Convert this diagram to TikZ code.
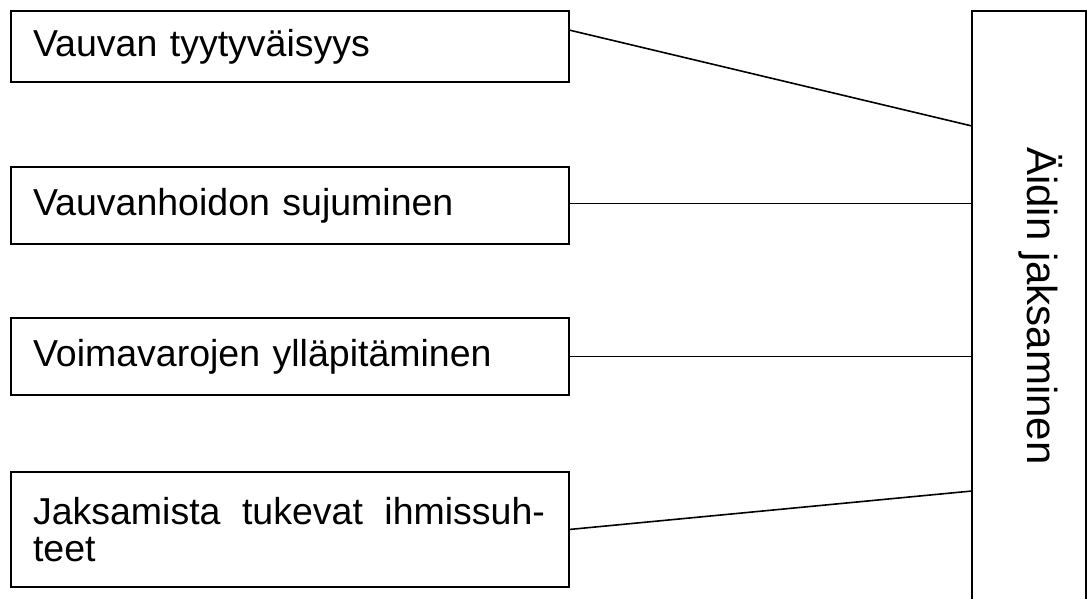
\documentclass[tikz,border=0pt]{standalone}
\usepackage{fontspec}
\setmainfont{Liberation Sans}
\begin{document}
\begin{tikzpicture}[x=1pt,y=-1pt,
  box/.style={draw, line width=1.8pt, inner xsep=22pt, inner ysep=0pt, outer sep=0pt,
    anchor=north west, minimum width=558pt, text width=514pt, align=left,
    font=\fontsize{37.5}{37}\selectfont},
  sidebox/.style={draw, line width=1.8pt, inner sep=0pt, outer sep=0pt,
    anchor=north west, minimum width=114pt, minimum height=600pt},
  sidetext/.style={rotate=-90, anchor=base west, inner sep=0pt,
    font=\fontsize{42}{44}\selectfont},
  conn/.style={line width=1.6pt}]
\useasboundingbox (0,0) rectangle (1087,598);
\clip (0,0) rectangle (1087,598);

% factor boxes on the left
\node[box, minimum height=71pt] (b1) at (11,11) {\raisebox{1.5pt}{Vauvan tyytyväisyys}};
\node[box, minimum height=77pt] (b2) at (11,167) {\raisebox{2pt}{Vauvanhoidon sujuminen}};
\node[box, minimum height=77pt] (b3) at (11,318) {\raisebox{2pt}{Voimavarojen ylläpitäminen}};
\node[box, minimum height=115pt] (b4) at (11,472)
  {\hbox to 512pt{Jaksamista\hfill tukevat\hfill ihmissuh-}\\teet};

% tall box on the right, running off the bottom edge
\node[sidebox] (r) at (972,11) {};
\node[sidetext] (rt) at (1027,147) {Äidin jaksaminen};

% connectors
\draw[conn] ([yshift=-19pt]b1.north east) -- ([yshift=-115pt]r.north west);
\draw[conn] ([yshift=2pt]b2.east) -- ([yshift=2pt]b2.east -| r.west);
\draw[conn] (b3.east) -- (b3.east -| r.west);
\draw[conn] (b4.east) -- ([yshift=-480pt]r.north west);
\end{tikzpicture}
\end{document}
